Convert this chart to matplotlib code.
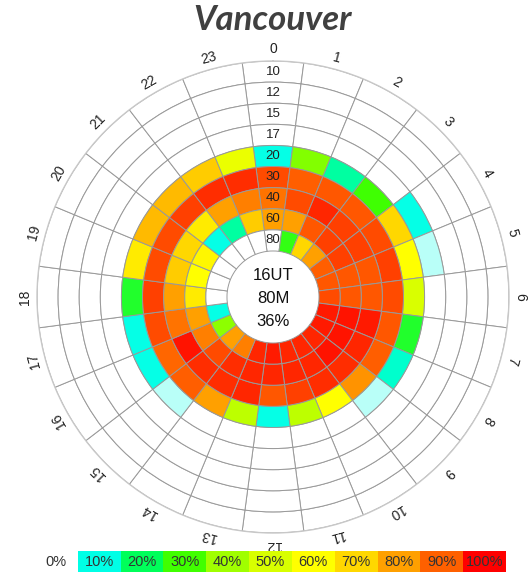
import numpy as np
import matplotlib
matplotlib.use("Agg")
import matplotlib.pyplot as plt
from matplotlib.colors import LinearSegmentedColormap

plt.rcParams["font.family"] = ["Liberation Sans", "DejaVu Sans"]

# ---------------- data ----------------
title = "Vancouver"
hours = [str(h) for h in range(24)]
bands = ["10", "12", "15", "17", "20", "30", "40", "60", "80"]   # outer -> inner
center_lines = ["16UT", "80M", "36%"]

band_10 = [0] * 24
band_12 = [0] * 24
band_15 = [0] * 24
band_17 = [0, 0, 0, 0, 10, 3, 0, 0, 0, 0, 0, 0, 0, 0, 0, 0, 0, 0, 0, 0, 0, 0, 0, 0]
band_20 = [10, 37, 15, 30, 70, 60, 50, 25, 12, 3, 0, 0, 0, 0, 0, 3, 10, 10, 25, 65, 75, 75, 72, 55]
band_30 = [92, 90, 91, 91, 92, 93, 92, 91, 90, 82, 60, 45, 10, 45, 80, 90, 89, 92, 93, 92, 92, 93, 95, 95]
band_40 = [87, 92, 96, 93, 93, 91, 91, 97, 96, 95, 95, 93, 91, 96, 95, 95, 98, 87, 80, 72, 70, 65, 80, 85]
band_60 = [80, 80, 91, 93, 93, 91, 91, 98, 98, 98, 96, 96, 96, 96, 95, 92, 85, 80, 65, 60, 62, 10, 15, 72]
band_80 = [0, 28, 70, 80, 90, 91, 92, 97, 97, 96, 96, 96, 97, 96, 85, 80, 38, 10, 0, 0, 0, 0, 0, 0]
values = [band_10, band_12, band_15, band_17, band_20, band_30, band_40, band_60, band_80]

legend_labels = ["0%", "10%", "20%", "30%", "40%", "50%", "60%", "70%", "80%", "90%", "100%"]
legend_colors = ["#ffffff", "#00ffe6", "#00ff5a", "#40ff00", "#a0ff00", "#d8ff00",
                 "#ffff00", "#ffd800", "#ffa000", "#ff6000", "#ff0000"]

cmap = LinearSegmentedColormap.from_list(
    "prop", list(zip(np.linspace(0, 1, len(legend_colors)), legend_colors)))

# ---------------- figure ----------------
W, H = 528, 572
fig = plt.figure(figsize=(W / 100, H / 100), dpi=100)

cx, cy, R = 273, 297, 236
ax = fig.add_axes([(cx - R) / W, (H - cy - R) / H, 2 * R / W, 2 * R / H], projection="polar")
ax.set_theta_zero_location("N")
ax.set_theta_direction(-1)

hole = 2.18
nb = len(bands)
width = 2 * np.pi / 24
theta = np.arange(24) * width

for i, row in enumerate(values):
    bottom = hole + (nb - 1 - i)
    cols = [cmap(v / 100.0) for v in row]
    ax.bar(theta, [1] * 24, width=width, bottom=bottom, color=cols,
           edgecolor="#999999", linewidth=0.7, align="center")

ax.set_ylim(0, hole + nb)
ax.set_xticks([])
ax.set_yticks([])
ax.grid(False)
ax.spines["polar"].set_color("#c8c8c8")
ax.spines["polar"].set_linewidth(1.0)

# hour labels
for h, lab in enumerate(hours):
    ax.text(theta[h], hole + nb + 0.55, lab, ha="center", va="center",
            rotation=-h * 15, rotation_mode="anchor", fontsize=10,
            color="#222222", clip_on=False)

# band labels in the 0h column
for i, b in enumerate(bands):
    ax.text(0, hole + (nb - 1 - i) + 0.5, b, ha="center", va="center",
            fontsize=9.5, color="#222222")

# center text
for k, t in enumerate(center_lines):
    fig.text(cx / W, 1 - (275 + 23.5 * k) / H, t, ha="center", va="center",
             fontsize=12, color="#111111")

# title
fig.text(cx / W, 1 - 20 / H, title, ha="center", va="center", fontsize=25,
         fontweight="bold", fontstyle="italic", family="Lato", color="#404040")

# legend strip
lax = fig.add_axes([35 / W, 0, 471 / W, 21 / H])
xs = np.arange(len(legend_labels))
lax.bar(xs, [1] * len(xs), width=1.0, color=legend_colors, align="center")
for x, lab in zip(xs, legend_labels):
    lax.text(x, 0.5, lab, ha="center", va="center", fontsize=10.5, color="#333333")
lax.set_xlim(-0.5, len(xs) - 0.5)
lax.set_ylim(0, 1)
lax.axis("off")

fig.savefig("out.png", dpi=100)
